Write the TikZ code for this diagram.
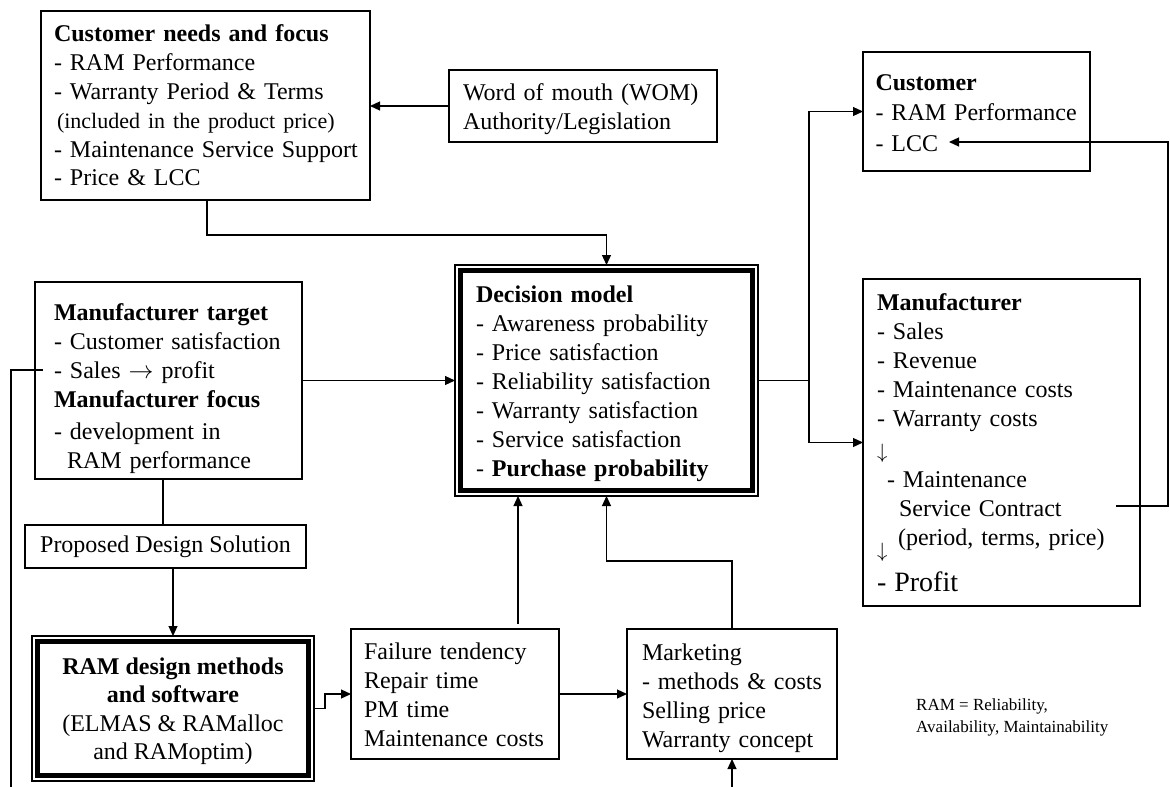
\documentclass[tikz,border=0pt]{standalone}
\usepackage{fontspec}
\setmainfont{Liberation Serif}
\usetikzlibrary{arrows.meta,calc}
\newcommand{\tstrut}[1]{\rule{0pt}{#1pt}}
\newcommand{\rarr}{\ensuremath{\rightarrow}}
\newcommand{\darr}{{\fontsize{20}{20}\selectfont\ensuremath{\downarrow}}}
\newcommand{\nohy}{\hyphenpenalty=10000\exhyphenpenalty=10000\hbadness=10000\hfuzz=50pt\relax}
\begin{document}
\begin{tikzpicture}[x=1pt,y=-1pt,
  box/.style={draw, line width=1.2pt, inner sep=0pt, outer sep=0pt, align=left, font=\fontsize{24}{29}\selectfont\nohy},
  cbox/.style={box, align=center},
  arr/.style={line width=1.2pt, -{Triangle[length=10pt,width=9pt]}},
  ln/.style={line width=1.2pt},
  frame/.style={line width=4.5pt}
  ]
\useasboundingbox (0,0) rectangle (1170,787);

% boxes
\node[box, font=\fontsize{24}{28.8}\selectfont\nohy, minimum width=329pt, minimum height=189pt, text width=303pt] (cn) at (205.5,105.5)
 {\tstrut{17}\textbf{Customer~needs~and~focus}\\
  -~RAM~Performance\\
  -~Warranty~Period~\&~Terms\\
  {\fontsize{22}{29}\selectfont\hspace*{3pt}(included~in~the~product~price)}\\
  -~Maintenance~Service~Support\\
  -~Price~\&~LCC};

\node[box, minimum width=268pt, minimum height=72pt, text width=240pt] (wom) at (583,106)
 {\tstrut{22.2}Word~of~mouth~(WOM)\\Authority/Legislation};

\node[box, font=\fontsize{24}{30.5}\selectfont\nohy, minimum width=227pt, minimum height=119pt, text width=202pt] (cust) at (976.5,111.5)
 {\tstrut{19}\textbf{Customer}\\-~RAM~Performance\\-~LCC};

\node[box, minimum width=267pt, minimum height=197pt, text width=229pt] (mt) at (168.5,380.5)
 {\tstrut{34}\textbf{Manufacturer~target}\\
  -~Customer~satisfaction\\
  -~Sales~\rarr~profit\\
  \textbf{Manufacturer~focus}\\[3pt]
  -~development~in\\
  \hspace*{13pt}RAM~performance};

\node[box, minimum width=303pt, minimum height=231pt, text width=261pt] (dm) at (606.5,380.5)
 {\tstrut{22.2}\textbf{Decision~model}\\
  -~Awareness~probability\\
  -~Price~satisfaction\\
  -~Reliability~satisfaction\\
  -~Warranty~satisfaction\\
  -~Service~satisfaction\\
  -~\textbf{Purchase~probability}};
\draw[frame] ([shift={(5.5pt,-5.5pt)}]dm.north west) rectangle ([shift={(-5.5pt,5.5pt)}]dm.south east);

\node[box, minimum width=277pt, minimum height=327pt, text width=249pt] (mf) at (1001.5,442.5)
 {\tstrut{16}\textbf{Manufacturer}\\
  -~Sales\\
  -~Revenue\\
  -~Maintenance~costs\\
  -~Warranty~costs\\[3pt]
  \darr\\
  \hspace*{10pt}-~Maintenance\\
  \hspace*{22pt}Service~Contract\\
  \makebox[21pt][l]{\raisebox{-12pt}[0pt][0pt]{\darr}}(period,~terms,~price)\\[17pt]
  {\fontsize{28}{29}\selectfont -~Profit}};

\node[cbox, minimum width=281pt, minimum height=43pt] (ps) at (165.5,546.5) {Proposed Design Solution};

\node[cbox, font=\fontsize{24}{28.5}\selectfont\nohy, minimum width=282pt, minimum height=145pt] (ram) at (173,708.5)
 {\tstrut{21.7}\textbf{RAM design methods}\\\textbf{and software}\\(ELMAS \& RAMalloc\\and RAMoptim)};
\draw[frame] ([shift={(5.5pt,-5.5pt)}]ram.north west) rectangle ([shift={(-5.5pt,5.5pt)}]ram.south east);

\node[box, minimum width=208pt, minimum height=130pt, text width=182pt] (fl) at (455,694)
 {\tstrut{19}Failure~tendency\\Repair~time\\PM~time\\Maintenance~costs};

\node[box, minimum width=210pt, minimum height=130pt, text width=180pt] (mk) at (732,694)
 {\tstrut{24.2}Marketing\\-~methods~\&~costs\\Selling~price\\Warranty~concept};

\node[anchor=north west, inner sep=0pt, align=left, font=\fontsize{17}{22}\selectfont] (note) at (916,698.4)
 {RAM = Reliability,\\Availability, Maintainability};

% free ends
\coordinate (msc) at (1116,506);
\coordinate (lcc) at (949,142);
\coordinate (sp) at (43,370);
\coordinate (bl) at (11,787);
\coordinate (bm) at (732,787);
\coordinate (mtb) at ([xshift=-5.5pt]mt.south);
\coordinate (flt) at ([xshift=63pt]fl.north);

% connectors
\draw[arr] (wom.west) -- (wom.west -| cn.east);
\draw[arr] ([xshift=1.5pt]cn.south) -- ++(0,35) -| (dm.north);
\draw[arr] (mt.east) -- (dm.west);
\draw[arr] (dm.east) -- ++(51,0) |- (cust.west);
\draw[arr] (dm.east) -- ++(51,0) |- (mf.west);
\draw[arr] (msc) -- ++(52,0) |- (lcc);
\draw[ln] (sp) -| (bl);
\draw[ln] (mtb) -- (mtb |- ps.north);
\draw[arr] (ps.south -| ram.north) -- (ram.north);
\draw[arr] (ram.east) -- ++(11,0) |- (fl.west);
\draw[arr, shorten <=5pt] (flt) -- (flt |- dm.south);
\draw[arr] (fl.east) -- (mk.west);
\draw[arr] (mk.north) -- ++(0,-68) -| (dm.south);
\draw[arr] (bm) -- (mk.south);
\end{tikzpicture}
\end{document}
